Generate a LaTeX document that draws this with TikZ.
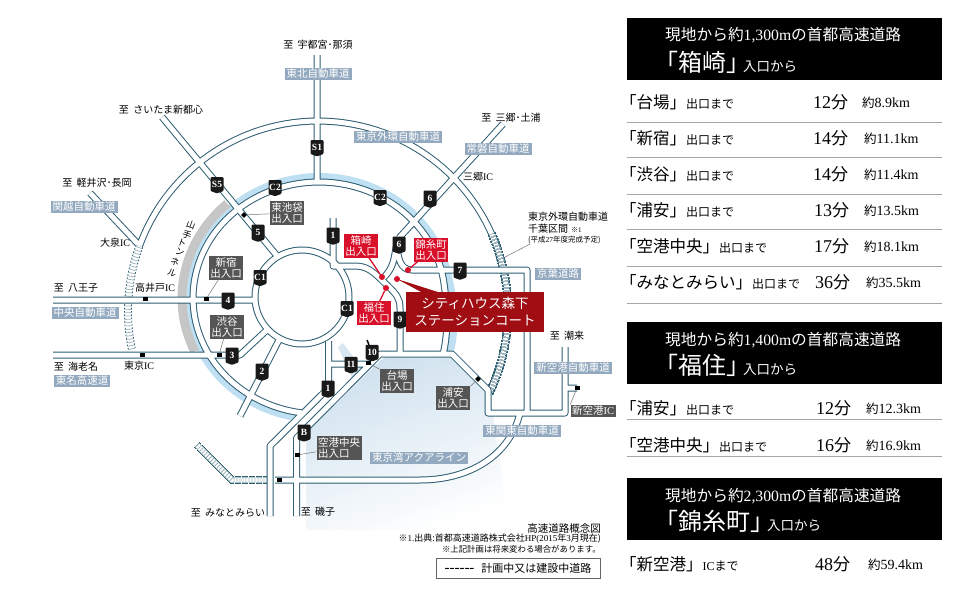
\documentclass[tikz,border=0pt]{standalone}
\usepackage{xcolor}
\usepackage{fontspec}
\usepackage{tikz}
\usetikzlibrary{calc}
\usetikzlibrary{shapes}
\usetikzlibrary{shapes.symbols}
\usetikzlibrary{positioning}
\setmainfont{Noto Sans CJK JP}
\newfontfamily\latinfont{Liberation Serif}
\newcommand{\ltn}[1]{{\latinfont #1}}
\newcommand{\fsz}[1]{\fontsize{#1}{#1}\selectfont}
\definecolor{roadblue}{HTML}{2E5E72}
\definecolor{ringblue}{HTML}{BFE0F2}
\definecolor{tunnelgray}{HTML}{C6C6C6}
\definecolor{baseblue}{HTML}{CFE1EE}
\definecolor{tagblue}{HTML}{93A9BF}
\definecolor{entrygray}{HTML}{555555}
\definecolor{entryred}{HTML}{D9102A}
\definecolor{sitered}{HTML}{A00D12}
\tikzstyle{roadcase} = [draw = roadblue, line width = 7pt, line join = round]
\tikzstyle{roadfill} = [draw = white, line width = 5pt, line join = round]
\tikzstyle{ladderedge} = [draw = roadblue, line width = 7pt, dash pattern = on 2pt off 1.5pt]
\tikzstyle{ladderfill} = [draw = white, line width = 5.4pt]
\tikzstyle{ladder} = [draw = roadblue!45, line width = 5.4pt, dash pattern = on 0.8pt off 2.2pt]
\tikzstyle{tick} = [draw = roadblue!45, line width = 0.8pt]
\tikzstyle{tickedge} = [draw = roadblue, line width = 0.8pt]
\tikzstyle{tag} = [fill = tagblue, text = white, inner xsep = 2pt, inner ysep = 1.5pt, font = \fsz{10.5}]
\tikzstyle{entry} = [fill = entrygray, text = white, inner xsep = 1.5pt, inner ysep = 1pt, align = center, font = \fontsize{10.5}{11.5}\selectfont]
\tikzstyle{redentry} = [entry, fill = entryred]
\tikzstyle{place} = [inner sep = 0, font = \fsz{10}]
\tikzstyle{shield} = [shape = signal, signal to = south, signal pointer angle = 140, fill = black!90, text = white, inner sep = 0.5pt, minimum width = 13pt, minimum height = 16pt, rounded corners = 1pt, font = \fsz{9.5}\latinfont\bfseries]
\tikzstyle{icmark} = [fill = black, inner sep = 0, minimum width = 5pt, minimum height = 3.5pt]
\tikzstyle{leader} = [draw = black!55, line width = 0.5pt]
\tikzstyle{reddot} = [circle, fill = entryred, inner sep = 0, minimum size = 6pt]
\tikzstyle{redline} = [draw = entryred, line width = 1.3pt]
\tikzstyle{headbox} = [fill = black, inner sep = 0, minimum width = 315pt, minimum height = 62pt]
\tikzstyle{headtext} = [text = white, inner sep = 0, anchor = base west]
\tikzstyle{rowtext} = [inner sep = 0, anchor = base west]
\tikzstyle{rowrule} = [draw = black!35, line width = 0.7pt]
\newcommand{\roadnet}{
  (317,55) -- (317,181)
  (90,193) -- (138,244)
  (162,117) -- (278,257)
  (53,300) -- (255,300)
  (53,355) -- (240,355) -- (268,329)
  (240,416) -- (280,338)
  (328.5,341) -- (328.5,388) -- (270,446) -- (270,516)
  (333,218) -- (333,266) -- (356,266) .. controls (370,266) and (378,277) .. (388,286) .. controls (396,294) and (400,298) .. (400,308) -- (400,354)
  (503,124) -- (399,238)
  (399,238) .. controls (393,250) and (398,265) .. (382,279)
  (397,245) .. controls (398,258) and (400,270) .. (412,270) -- (527,270) -- (527,413)
  (329,364) -- (371,364)
  (296.5,516) -- (296.5,438) -- (380,354) -- (452,354) -- (488,390) -- (488,413) -- (565,413) -- (565,347)
  (565,388) -- (577,388)
  (275,480) -- (420,480) .. controls (470,480) and (510,455) .. (520,413)
  plot [domain = 0:360, samples = 80] ({302 + 47*cos(\x)}, {297 + 47*sin(\x)})
  plot [domain = 200:336, samples = 60] ({318 + 190*cos(\x)}, {311 + 190*sin(\x)})
  plot [domain = 98:350, samples = 80] ({319 + 126*cos(\x)}, {298 + 116*sin(\x)}) .. controls (447,300) and (449,332) .. (443,354)
}
\newcommand{\ladderat}[1]{
  \draw [tick] ({318 + 187*cos(#1)}, {311 + 187*sin(#1)}) -- ({318 + 193*cos(#1)}, {311 + 193*sin(#1)});
  \draw [tickedge] ({318 + 186.5*cos(#1)}, {311 + 186.5*sin(#1)}) -- ({318 + 186.5*cos(#1 + 0.5)}, {311 + 186.5*sin(#1 + 0.5)});
  \draw [tickedge] ({318 + 193.5*cos(#1)}, {311 + 193.5*sin(#1)}) -- ({318 + 193.5*cos(#1 + 0.5)}, {311 + 193.5*sin(#1 + 0.5)});
}
\begin{document}
\begin{tikzpicture}[x = 1pt, y = -1pt]
\useasboundingbox (0,0) rectangle (980,589);

\shade [top color = baseblue, bottom color = white, shading angle = 20, rounded corners = 3pt] (306,530) -- (306,432) -- (383,358) -- (455,358) -- (490,394) -- (510,530) -- cycle;
\fill [baseblue!80] (338,347) -- (343,343) -- (363,370) -- (357,389) -- cycle;

\draw [ringblue, line width = 8pt] plot [domain = 98:350, samples = 80] ({319 + 131*cos(\x)}, {298 + 121*sin(\x)}) .. controls (454,300) and (456,332) .. (449,354);
\draw [tunnelgray, line width = 9pt] plot [domain = 155:228, samples = 30] ({319 + 137*cos(\x)}, {298 + 127*sin(\x)});

\foreach \i in {0,...,31}
  \ladderat{168.5 + \i}
\foreach \i in {0,...,49}
  \ladderat{336 + \i}
\draw [ladderedge] (197,445) -- (232,480) -- (270,480);
\draw [ladderfill] (197,445) -- (232,480) -- (270,480);
\draw [ladder] (197,445) -- (232,480) -- (270,480);

\draw [roadcase] \roadnet;
\draw [roadfill] \roadnet;

\foreach \nm/\px/\py in {takaido/145/299, shinjuku/206/299, tomei/142/355, shibuya/219/355, bay/279/480, airport/297/455, daiba/368/363, shinkuko/577/388}
  \node [icmark] (ic\nm) at (\px,\py) {};
\node [icmark, minimum width = 4pt, minimum height = 4pt, rotate = 45] (icike) at (244,215) {};
\node [icmark, minimum width = 4pt, minimum height = 4pt, rotate = 45] (icurayasu) at (478,379) {};

\foreach \nm/\px/\py/\lab in {sa/317/147/S1, sb/217/184/S5, ca/275/187/C2, cb/380/197/C2, cc/260/277/C1, cd/347/308/C1, e/258/232/5, fa/333/235/1, fb/328/388/1, g/228/300/4, h/232/355/3, i/262/371/2, j/304/432/B, ka/430/198/6, kb/399/244/6, l/460/270/7, m/400/319/9, n/372/352/10, o/351/364/11}
  \node [shield] (route\nm) at (\px,\py) {\lab};
\draw [black, line width = 1.5pt] (routen) -- (367,340);

\node [tag] (tohoku) at (318,74) {東北自動車道};
\node [tag] (gaikan) at (398,137) {東京外環自動車道};
\node [tag] (joban) at (498,149) {常磐自動車道};
\node [tag] (kanetsu) at (84,207) {関越自動車道};
\node [tag] (chuo) at (85,313) {中央自動車道};
\node [tag] (tomeiexp) at (82,381) {東名高速道};
\node [tag] (keiyo) at (558,274) {京葉道路};
\node [tag] (shinkukoexp) at (573,368) {新空港自動車道};
\node [tag] (higashikanto) at (522,431) {東関東自動車道};
\node [tag] (aqua) at (419,458) {東京湾アクアライン};

\node [entry] (eike) at (287,213) {東池袋\\出入口};
\node [entry] (eshinjuku) at (226,268) {新宿\\出入口};
\node [entry] (eshibuya) at (227,327) {渋谷\\出入口};
\node [entry] (edaiba) at (397,381) {台場\\出入口};
\node [entry] (eurayasu) at (453,398) {浦安\\出入口};
\node [entry, align = left] (eairport) at (339,448) {空港中央\\出入口};
\node [entry, inner ysep = 1.5pt] (eshinkuko) at (593,411) {新空港\ltn{IC}};
\draw [leader] (eike) -- (icike);
\draw [leader] (eshinjuku) -- (icshinjuku);
\draw [leader] (eshibuya) -- (icshibuya);
\draw [leader] (edaiba.north west) -- (icdaiba);
\draw [leader] (eurayasu.north east) -- (icurayasu);
\draw [leader] (eairport) -- (icairport);
\draw [leader] (eshinkuko.north west) -- (icshinkuko);

\node [redentry] (ehakozaki) at (361,246) {箱崎\\出入口};
\node [redentry] (ekinshicho) at (431,250) {錦糸町\\出入口};
\node [redentry] (efukuzumi) at (374,313) {福住\\出入口};
\node [reddot] (dhakozaki) at (382,277) {};
\node [reddot] (dfukuzumi) at (386,288) {};
\node [reddot] (dkinshicho) at (408,270) {};
\node [reddot] (dsite) at (397,279) {};
\draw [redline] (ehakozaki) -- (dhakozaki);
\draw [redline] (efukuzumi) -- (dfukuzumi);
\draw [redline] (ekinshicho) -- (dkinshicho);
\fill [sitered] (dsite.center) -- (423,293) -- (441,293) -- cycle;
\node [fill = sitered, text = white, inner sep = 0, minimum width = 138pt, minimum height = 40pt, align = center, font = \fontsize{13.5}{17}\selectfont] (site) at (475,312) {シティハウス森下\\ステーションコート};

\node [place] (toutsunomiya) at (318,45) {至~~宇都宮･那須};
\node [place] (tosaitama) at (161,110) {至~~さいたま新都心};
\node [place] (tokaruizawa) at (97,183) {至~~軽井沢･長岡};
\node [place] (oizumi) at (115,243) {大泉\ltn{IC}};
\node [place] (tohachioji) at (76,288) {至~~八王子};
\node [place] (takaido) at (155,288) {高井戸\ltn{IC}};
\node [place] (toebina) at (76,367) {至~~海老名};
\node [place] (tokyoic) at (139,366) {東京\ltn{IC}};
\node [place] (tomisato) at (511,118) {至~~三郷･土浦};
\node [place] (misatoic) at (478,177) {三郷\ltn{IC}};
\node [place] (toitako) at (567,336) {至~~潮来};
\node [place] (tominato) at (228,513) {至~~みなとみらい};
\node [place] (toisogo) at (318,512) {至~~磯子};
\node [place, anchor = west] (chiba) at (528,217) {東京外環自動車道};
\node [place, anchor = west] (chibab) at (528,229) {千葉区間\hspace{3pt}\fsz{7}※\ltn{1}};
\node [place, anchor = west, font = \fsz{7.5}] (chibac) at (528,240) {(平成\ltn{27}年度完成予定)};
\coordinate (chibaend) at (505,257);
\draw [leader] ($(chibac.south west) + (2,0)$) -- (chibaend);

\foreach \ch/\px/\py in {山/191/225, 手/187/235, ト/182/243, ン/180/252, ネ/175/262, ル/172/273}
  \node [place, rotate = -20, font = \fsz{9}] at (\px,\py) {\ch};

\node [place, anchor = east, font = \fsz{10.5}] (gaiyo) at (601,528) {高速道路概念図};
\node [place, anchor = east, font = \fsz{9}] (notea) at (601,539) {※\ltn{1.}出典:首都高速道路株式会社\ltn{HP(2015}年\ltn{3}月現在)};
\node [place, anchor = east, font = \fsz{8.4}] (noteb) at (601,549) {※上記計画は将来変わる場合があります。};
\node [draw = black!60, line width = 0.5pt, inner sep = 0, minimum width = 164pt, minimum height = 20pt, font = \fsz{11}] (legend) at (518,568) {{\fsz{15}\ltn{------}}\hspace{7pt}計画中又は建設中道路};

\node [headbox] (heada) at (784.5,49) {};
\node [headbox] (headb) at (784.5,353) {};
\node [headbox] (headc) at (784.5,509) {};
\node [headtext, font = \fsz{15.7}] (headatop) at (665,40.5) {現地から約\ltn{1,300m}の首都高速道路};
\node [headtext] (headaname) at (654,71) {\fsz{24}「箱崎」\hspace{-7pt}\fsz{13.5}入口から};
\node [headtext, font = \fsz{15.7}] (headbtop) at (665,345.5) {現地から約\ltn{1,400m}の首都高速道路};
\node [headtext] (headbname) at (654,374) {\fsz{24}「福住」\hspace{-7pt}\fsz{13.5}入口から};
\node [headtext, font = \fsz{15.7}] (headctop) at (665,501.5) {現地から約\ltn{2,300m}の首都高速道路};
\node [headtext] (headcname) at (654,530) {\fsz{24}「錦糸町」\hspace{-7pt}\fsz{13.5}入口から};

\foreach \y/\name/\tail/\xt/\tm/\xk/\km in {
  102/台場/出口まで/813/12/862/8.9km,
  138/新宿/出口まで/813/14/864/11.1km,
  174/渋谷/出口まで/813/14/864/11.4km,
  210/浦安/出口まで/814/13/864/13.5km,
  246/空港中央/出口まで/814/17/864/18.1km,
  282/みなとみらい/出口まで/815/36/866/35.5km,
  408/浦安/出口まで/816/12/866/12.3km,
  445/空港中央/出口まで/816/16/866/16.9km,
  564/新空港/\ltn{IC}まで/815/48/868/59.4km} {
  \node [rowtext] (exit\y) at (620,\y+6) {\fsz{16.5}「\name」\fsz{12}\tail};
  \node [rowtext] (time\y) at (\xt,\y+6) {\fsz{18}\ltn{\tm}\fsz{17}分};
  \node [rowtext] (dist\y) at (\xk,\y+5) {\fsz{12.5}約\fsz{14}\ltn{\km}};
}
\foreach \y in {122, 157, 194, 229, 266, 303, 419, 456}
  \draw [rowrule] (627,\y) -- (942,\y);
\end{tikzpicture}
\end{document}
